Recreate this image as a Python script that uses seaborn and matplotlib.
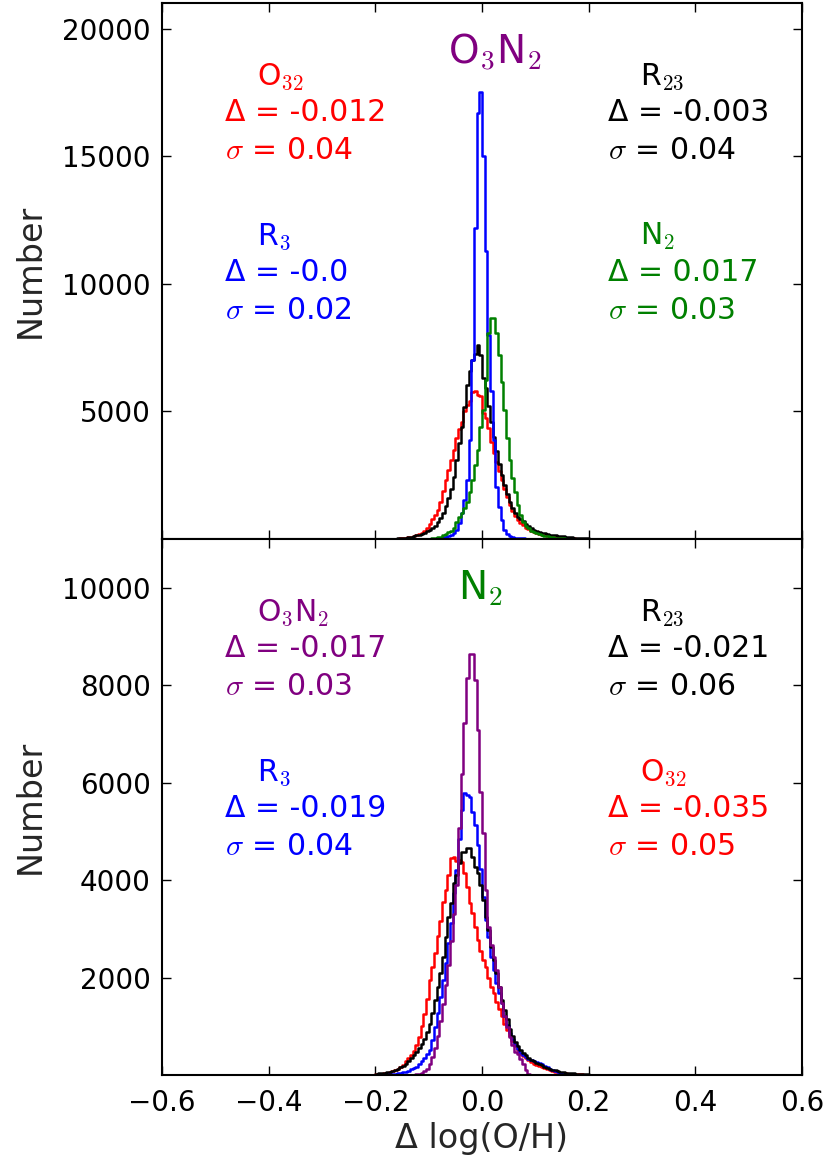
import numpy as np
import pandas as pd
import matplotlib
matplotlib.use("Agg")
import matplotlib.pyplot as plt
import seaborn as sns

# ---------------- data (counts per 0.005-wide bin, from -0.2 to 0.2) ----------------
bin_lo, bin_hi, bin_w = -0.2, 0.2, 0.005

# top panel: differences relative to O3N2
top_o32 = [3, 4, 5, 6, 8, 10, 12, 15, 20, 28,
           40, 50, 65, 85, 115, 150, 190, 240, 320, 440,
           600, 780, 950, 1150, 1450, 1900, 2300, 2700, 3100, 3500,
           3950, 4300, 4600, 5000, 5250, 5400, 5750, 5800, 5650, 5600,
           4950, 4750, 4340, 3810, 3370, 3000, 2650, 2300, 1950, 1650,
           1350, 1100, 900, 760, 640, 540, 450, 380, 320, 270,
           230, 200, 170, 150, 130, 110, 95, 80, 70, 60,
           50, 42, 35, 30, 25, 20, 16, 13, 10, 8]
top_r23 = [3, 4, 5, 6, 8, 10, 14, 18, 25, 35,
           45, 55, 70, 90, 110, 140, 170, 210, 250, 300,
           350, 420, 520, 650, 830, 1020, 1300, 1600, 1950, 2450,
           3100, 3760, 4400, 5180, 6030, 6600, 7010, 7250, 7600, 7200,
           6300, 5900, 5200, 4600, 4000, 3450, 2950, 2500, 2100, 1750,
           1450, 1200, 1020, 880, 780, 700, 600, 500, 430, 370,
           320, 280, 250, 220, 195, 175, 160, 145, 130, 115,
           100, 90, 80, 70, 60, 50, 42, 35, 28, 22]
top_r3 = [0, 0, 0, 0, 0, 0, 0, 0, 0, 0,
          0, 0, 1, 1, 2, 2, 3, 4, 5, 7,
          10, 15, 20, 30, 45, 65, 90, 120, 160, 230,
          350, 620, 1020, 1530, 2300, 3880, 7000, 12200, 16700, 17500,
          15000, 11300, 8000, 5800, 3900, 2050, 1270, 745, 350, 200,
          120, 80, 55, 40, 30, 22, 16, 12, 9, 7,
          5, 4, 3, 3, 2, 2, 1, 1, 1, 1,
          1, 1, 0, 0, 0, 0, 0, 0, 0, 0]
top_n2 = [0, 0, 0, 0, 0, 0, 0, 0, 1, 1,
          1, 1, 2, 2, 3, 4, 6, 8, 10, 14,
          20, 30, 45, 65, 90, 140, 200, 260, 330, 450,
          650, 850, 1020, 1200, 1450, 1850, 2310, 2900, 3490, 4390,
          5050, 6230, 8070, 8660, 8660, 8070, 7210, 6160, 5050, 3950,
          3100, 2390, 1850, 1330, 940, 680, 520, 420, 330, 270,
          220, 180, 150, 120, 100, 80, 65, 50, 40, 32,
          25, 20, 16, 12, 10, 8, 6, 5, 4, 3]

# bottom panel: differences relative to N2
bot_o3n2 = [0, 0, 0, 0, 0, 0, 0, 0, 0, 1,
            1, 1, 2, 3, 5, 10, 20, 40, 75, 130,
            220, 360, 560, 800, 1100, 1450, 1850, 2250, 2750, 3300,
            3900, 5060, 6170, 7220, 8140, 8640, 8640, 8100, 7075, 5810,
            4970, 3800, 3040, 2670, 2430, 2150, 1810, 1470, 1200, 990,
            785, 615, 480, 420, 330, 230, 100, 20, 8, 3,
            1, 1, 0, 0, 0, 0, 0, 0, 0, 0,
            0, 0, 0, 0, 0, 0, 0, 0, 0, 0]
bot_r3 = [5, 6, 8, 10, 12, 15, 20, 25, 32, 42,
          55, 70, 90, 115, 140, 170, 220, 280, 340, 420,
          510, 720, 990, 1270, 1600, 1950, 2290, 2700, 3110, 3730,
          4200, 4850, 5435, 5780, 5750, 5710, 5400, 5130, 4720, 4220,
          3660, 3180, 2840, 2430, 2150, 1880, 1680, 1470, 1200, 1020,
          855, 730, 620, 540, 450, 400, 360, 330, 310, 290,
          270, 245, 220, 190, 160, 130, 100, 75, 55, 40,
          30, 20, 14, 10, 7, 5, 3, 2, 1, 1]
bot_r23 = [28, 33, 40, 48, 58, 70, 85, 105, 130, 160,
           190, 230, 280, 340, 400, 470, 550, 640, 740, 880,
           1050, 1270, 1540, 1810, 2090, 2430, 2840, 3250, 3520, 3930,
           4100, 4350, 4580, 4580, 4650, 4650, 4480, 4270, 4140, 3900,
           3600, 3250, 2970, 2630, 2360, 2090, 1810, 1540, 1330, 1150,
           950, 800, 680, 590, 510, 450, 400, 350, 310, 280,
           250, 220, 195, 170, 150, 130, 110, 95, 80, 68,
           58, 50, 43, 37, 32, 27, 23, 20, 17, 15]
bot_o32 = [15, 20, 28, 38, 50, 65, 80, 100, 125, 155,
           210, 280, 340, 410, 490, 620, 780, 1000, 1250, 1550,
           1950, 2220, 2500, 2850, 3150, 3550, 3800, 4100, 4450, 4480,
           4400, 4420, 4380, 4150, 3860, 3520, 3320, 3040, 2770, 2550,
           2360, 2220, 2000, 1810, 1680, 1500, 1350, 1200, 1050, 920,
           800, 690, 590, 510, 440, 390, 340, 300, 265, 235,
           210, 185, 160, 140, 120, 100, 85, 70, 58, 48,
           40, 33, 27, 22, 18, 15, 12, 10, 8, 6]

# annotation values
top_title = "O$_3$N$_2$"
bot_title = "N$_2$"
top_stats = [("O$_{32}$", "-0.012", "0.04"), ("R$_3$", "-0.0", "0.02"),
             ("R$_{23}$", "-0.003", "0.04"), ("N$_2$", "0.017", "0.03")]
bot_stats = [("O$_3$N$_2$", "-0.017", "0.03"), ("R$_3$", "-0.019", "0.04"),
             ("R$_{23}$", "-0.021", "0.06"), ("O$_{32}$", "-0.035", "0.05")]

x_ticks = [-0.6, -0.4, -0.2, 0.0, 0.2, 0.4, 0.6]
top_yticks = [5000, 10000, 15000, 20000]
bot_yticks = [2000, 4000, 6000, 8000, 10000]

# ---------------- style ----------------
sns.set_style("ticks")
plt.rcParams.update({
    "font.family": ["DejaVu Sans"],
    "mathtext.fontset": "cm",
    "axes.linewidth": 1.5,
    "axes.edgecolor": "black",
})

n_bins = len(top_o32)
centers = bin_lo + bin_w * (np.arange(n_bins) + 0.5)

fig = plt.figure(figsize=(8.26, 11.62), dpi=100)
ax_top = fig.add_axes([0.1961, 0.5361, 0.7748, 0.4613])
ax_bot = fig.add_axes([0.1961, 0.0749, 0.7748, 0.4613])


def draw(ax, series):
    for counts, color in series:
        df = pd.DataFrame({"x": centers, "w": np.asarray(counts, dtype=float)})
        sns.histplot(data=df, x="x", weights="w", binwidth=bin_w,
                     binrange=(bin_lo, bin_hi), element="step",
                     fill=False, color=color, linewidth=1.8, ax=ax)


draw(ax_top, [(top_o32, "red"), (top_r23, "black"), (top_r3, "blue"), (top_n2, "green")])
draw(ax_bot, [(bot_o32, "red"), (bot_r3, "blue"), (bot_r23, "black"), (bot_o3n2, "purple")])

for ax, yt, ymax in [(ax_top, top_yticks, 21000), (ax_bot, bot_yticks, 11000)]:
    ax.set_xlim(-0.6, 0.6)
    ax.set_ylim(0, ymax)
    ax.set_xticks(x_ticks)
    ax.set_yticks(yt)
    ax.set_ylabel("Number", fontsize=24, labelpad=11)
    ax.tick_params(axis="both", which="major", direction="in", top=True, right=True,
                   length=6.5, width=1.0, labelsize=20, colors="black")
    ax.tick_params(axis="y", pad=8)
    ax.tick_params(axis="x", pad=10)
    for s in ax.spines.values():
        s.set_visible(True)

ax_top.tick_params(labelbottom=False)
ax_top.set_xlabel("")
ax_bot.set_xlabel("Δ log(O/H)", fontsize=24, labelpad=4)


def block(ax, fx, fys, name, delta, sigma, color):
    ax.text(fx + 0.05, fys[0], name, transform=ax.transAxes, color=color,
            fontsize=21.5, ha="left", va="baseline")
    ax.text(fx, fys[1], "Δ = " + delta, transform=ax.transAxes, color=color,
            fontsize=21.5, ha="left", va="baseline")
    ax.text(fx, fys[2], r"$\sigma$ = " + sigma, transform=ax.transAxes, color=color,
            fontsize=21.5, ha="left", va="baseline")


row_hi = (0.847, 0.779, 0.709)
row_lo = (0.549, 0.481, 0.410)
left_x, right_x = 0.098, 0.697

top_cols = ["red", "blue", "black", "green"]
bot_cols = ["purple", "blue", "black", "red"]
pos = [(left_x, row_hi), (left_x, row_lo), (right_x, row_hi), (right_x, row_lo)]
for (name, d, s), c, (fx, fys) in zip(top_stats, top_cols, pos):
    block(ax_top, fx, fys, name, d, s, c)
for (name, d, s), c, (fx, fys) in zip(bot_stats, bot_cols, pos):
    block(ax_bot, fx, fys, name, d, s, c)

ax_top.text(0.520, 0.887, top_title, transform=ax_top.transAxes, color="purple",
            fontsize=28, ha="center", va="baseline")
ax_bot.text(0.498, 0.887, bot_title, transform=ax_bot.transAxes, color="green",
            fontsize=28, ha="center", va="baseline")

fig.savefig("out.png", dpi=100)
